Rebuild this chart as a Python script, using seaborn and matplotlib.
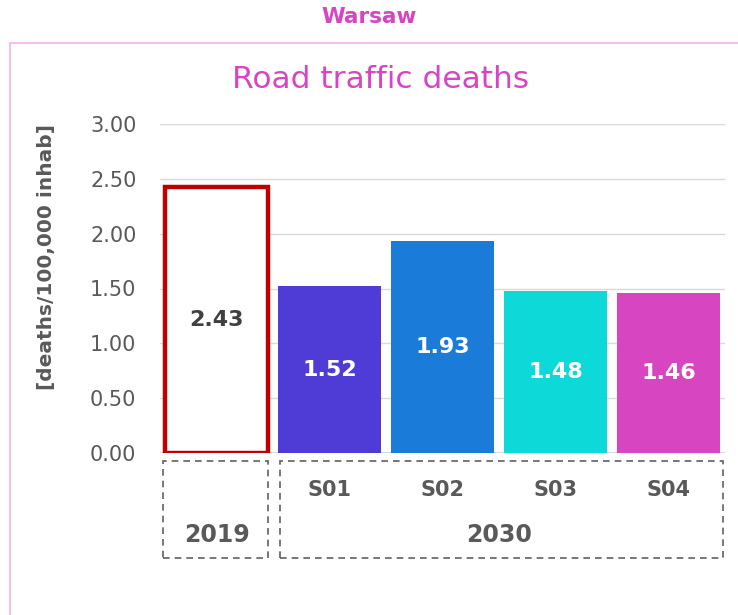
import matplotlib
matplotlib.use("Agg")
import matplotlib.pyplot as plt
import seaborn as sns
import pandas as pd
from matplotlib.patches import Rectangle
import matplotlib.transforms as mtransforms

# ---- data ----
categories = ["2019", "S01", "S02", "S03", "S04"]
values = [2.43, 1.52, 1.93, 1.48, 1.46]
bar_colors = ["#FFFFFF", "#4F3BD6", "#1A7BD9", "#0DD9D9", "#D845C0"]
label_colors = ["#404040", "#FFFFFF", "#FFFFFF", "#FFFFFF", "#FFFFFF"]
scenario_labels = ["S01", "S02", "S03", "S04"]
year_labels = ["2019", "2030"]
y_ticks = [0.0, 0.5, 1.0, 1.5, 2.0, 2.5, 3.0]

sns.set_theme(style="white")
plt.rcParams["font.family"] = ["DejaVu Sans"]

df = pd.DataFrame({"cat": categories, "val": values})

fig = plt.figure(figsize=(7.38, 6.15), dpi=100)
ax = fig.add_axes([160/738, 1-453/615, 565/738, 329/615])

sns.barplot(data=df, x="cat", y="val", hue="cat", palette=bar_colors,
            legend=False, width=0.91, ax=ax, saturation=1)

# 2019 bar: outlined
p0 = ax.patches[0]
p0.set_facecolor("white")
p0.set_edgecolor("#C00000")
p0.set_linewidth(3.2)
for p in ax.patches[1:]:
    p.set_edgecolor("none")

# bar value labels
for i, cont in enumerate(ax.containers):
    ax.bar_label(cont, labels=[f"{values[i]:.2f}"], label_type="center",
                 color=label_colors[i], fontsize=16, fontweight="bold")

ax.set_ylim(0, 3)
ax.set_xlim(-0.5, 4.5)
ax.set_yticks(y_ticks)
ax.set_yticklabels([f"{t:.2f}" for t in y_ticks], fontsize=15, color="#595959")
ax.tick_params(axis="y", length=0, pad=17)
ax.set_xticks([])
ax.set_xlabel("")
ax.set_ylabel("[deaths/100,000 inhab]", fontsize=14.5, fontweight="bold",
              color="#595959")
ax.yaxis.set_label_coords(-0.184, 0.596)
ax.yaxis.grid(True, color="#D9D9D9", linewidth=1)
ax.set_axisbelow(True)
for s in ax.spines.values():
    s.set_visible(False)
ax.axhline(0, color="#D9D9D9", linewidth=1.5, zorder=0.5)

# category / group boxes below axis
trans = mtransforms.blended_transform_factory(ax.transData, fig.transFigure)
y_top = 1 - 461/615
y_bot = 1 - 558/615
box_kw = dict(fill=False, edgecolor="#606060", linestyle=(0, (4, 3)),
              linewidth=1.2, transform=trans, clip_on=False)
fig.patches.append(Rectangle((-0.47, y_bot), 0.93, y_top - y_bot, **box_kw))
fig.patches.append(Rectangle((0.56, y_bot), 3.92, y_top - y_bot, **box_kw))

for i, s in enumerate(scenario_labels):
    fig.text(i + 1, 1 - 490/615, s, transform=trans, fontsize=15,
             fontweight="bold", color="#595959", ha="center", va="center")
fig.text(0, 1 - 535/615, year_labels[0], transform=trans, fontsize=17,
         fontweight="bold", color="#595959", ha="center", va="center")
fig.text(2.5, 1 - 535/615, year_labels[1], transform=trans, fontsize=17,
         fontweight="bold", color="#595959", ha="center", va="center")

# outer frame and titles
fig.patches.append(Rectangle((10/738, -0.05), 1.0, 1 - 43/615 + 0.05,
                             transform=fig.transFigure, fill=False,
                             edgecolor="#F2B8EC", linewidth=1.3))
fig.text(0.5, 1 - 17/615, "Warsaw", fontsize=15.5, fontweight="bold",
         color="#D944C4", ha="center", va="center")
fig.text(0.515, 1 - 80/615, "Road traffic deaths", fontsize=22.5,
         color="#D944C4", ha="center", va="center")

fig.savefig("out.png", dpi=100)
